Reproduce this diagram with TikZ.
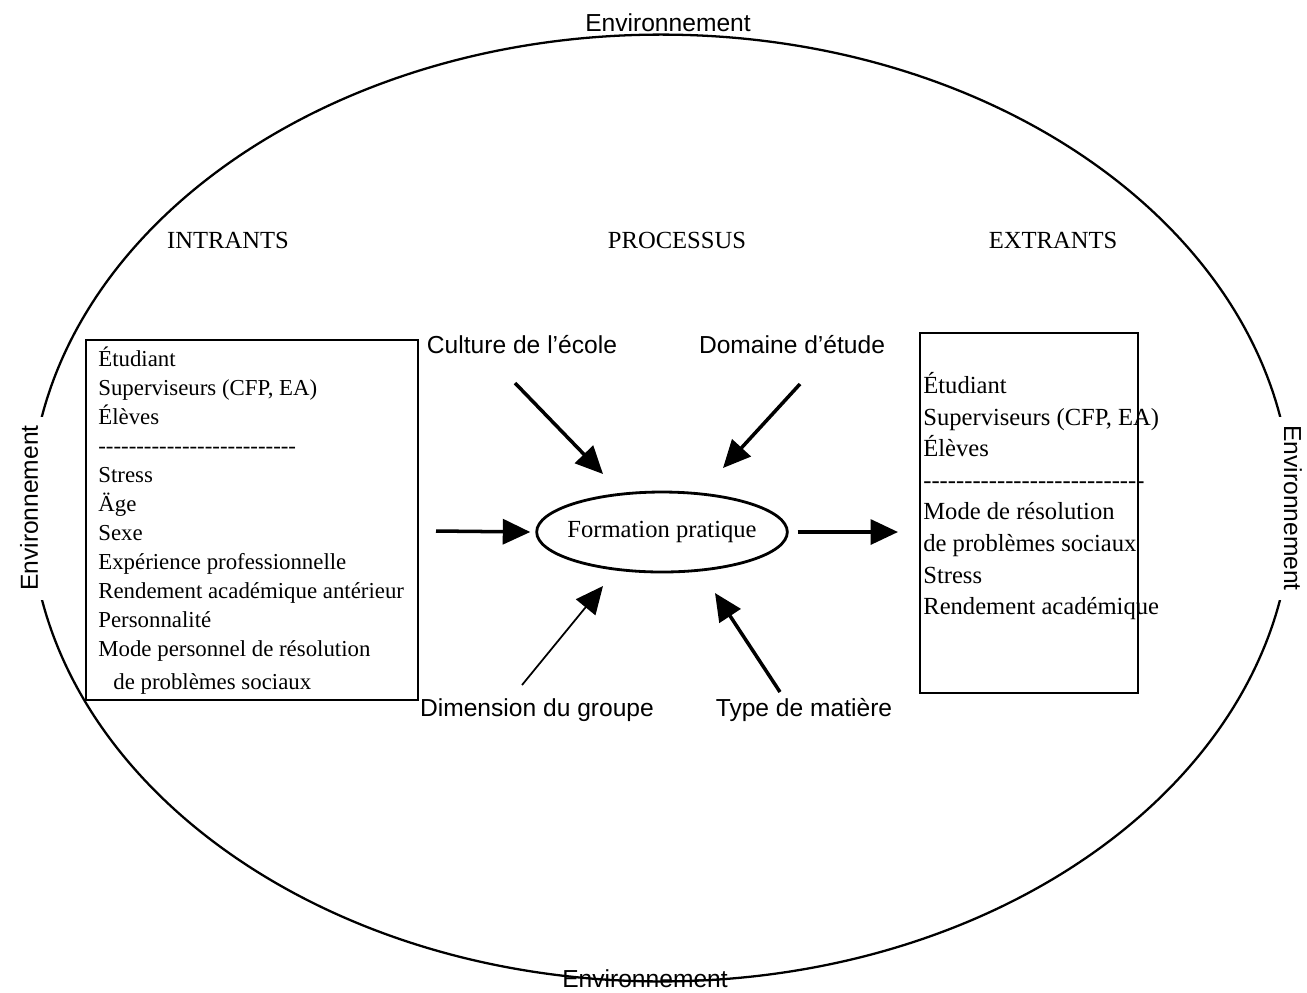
\documentclass[tikz,border=0pt]{standalone}
\usepackage{fontspec}
\setmainfont{Liberation Serif}
\newfontfamily\labelfont{Liberation Sans}
\usetikzlibrary{arrows.meta,shapes.geometric}
\newcommand{\sepdashes}[1]{\hbox to #1{\leaders\hbox{-}\hfill}}

\begin{document}
\begin{tikzpicture}[
    x=0.02cm, y=-0.02cm,
    box/.style={rectangle,draw=black,line width=1.3pt,inner sep=0pt},
    item/.style={align=left,anchor=north west,inner sep=0pt},
    lbl/.style={font=\labelfont\fontsize{14}{17}\selectfont},
    head/.style={font=\fontsize{14}{17}\selectfont},
    flow/.style={-{Triangle[length=0.55cm,width=0.5cm]},line width=2pt},
  ]
  \useasboundingbox (0,0) rectangle (1307,992);

  % Environment
  \node[ellipse,draw,line width=1.3pt,minimum width=25.24cm,minimum height=18.94cm] (env) at (661,508) {};
  \node[lbl] (envN) at (668,23) {Environnement};
  \node[lbl] (envS) at (645,979) {Environnement};
  \node[lbl,rotate=90,fill=white,inner sep=5pt] (envW) at (env.west) {Environnement};
  \node[lbl,rotate=-90,fill=white,inner sep=5pt] (envE) at (env.east) {Environnement};

  % Headings
  \node[head] (intr) at (228,240) {INTRANTS};
  \node[head] (proc) at (677,240) {PROCESSUS};
  \node[head] (extr) at (1053,240) {EXTRANTS};

  % Boxes
  \node[box,minimum width=6.64cm,minimum height=7.2cm] (inbox) at (252,520) {};
  \node[item,font=\fontsize{13}{16.5}\selectfont] (intxt) at (98,347)
    {Étudiant\\Superviseurs (CFP, EA)\\Élèves\\\sepdashes{4.04cm}\\Stress\\Äge\\Sexe\\
     Expérience professionnelle\\Rendement académique antérieur\\Personnalité\\
     Mode personnel de résolution\\[2pt]\hspace{0.3cm}de problèmes sociaux};
  \node[box,minimum width=4.36cm,minimum height=7.2cm] (outbox) at (1029,513) {};
  \node[item,font=\fontsize{14}{18}\selectfont] (outtxt) at (923,372)
    {Étudiant\\Superviseurs (CFP, EA)\\Élèves\\\sepdashes{4.48cm}\\Mode de résolution\\
     de problèmes sociaux\\Stress\\Rendement académique};

  % Process
  \node[ellipse,draw,line width=1.6pt,inner xsep=-0.12cm,inner ysep=0pt,
        minimum width=5cm,minimum height=1.6cm,
        font=\fontsize{14}{17}\selectfont] (form) at (662,532) {Formation pratique};
  \node[lbl] (culture) at (522,345) {Culture de l’école};
  \node[lbl] (domaine) at (792,345) {Domaine d’étude};
  \node[lbl] (dimension) at (537,710) {Dimension du groupe};
  \node[lbl] (type) at (804,710) {Type de matière};

  % Arrow ends
  \coordinate (cultureT) at (515,383);
  \coordinate (cultureH) at (603,474);
  \coordinate (domaineT) at (800,384);
  \coordinate (domaineH) at (723,468);
  \coordinate (dimensionT) at (522,685);
  \coordinate (dimensionH) at (603,586);
  \coordinate (typeT) at (780,692);
  \coordinate (typeH) at (715,593);
  \coordinate (inT) at (436,531);
  \coordinate (outH) at (898,532);

  % Draw connections
  \draw[flow] (cultureT) -- (cultureH);
  \draw[flow] (domaineT) -- (domaineH);
  \draw[flow,line width=1pt] (dimensionT) -- (dimensionH);
  \draw[flow] (typeT) -- (typeH);
  \draw[flow] (inT) -- ([xshift=-0.1cm]form.west);
  \draw[flow] ([xshift=0.18cm]form.east) -- (outH);

\end{tikzpicture}
\end{document}
